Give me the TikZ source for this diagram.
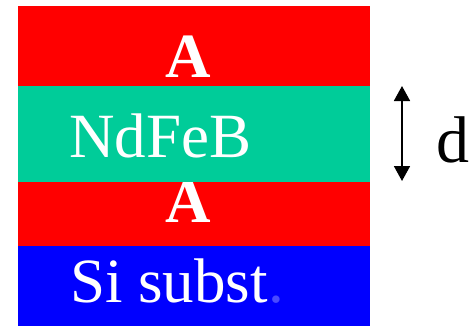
\documentclass[tikz,border=0pt]{standalone}
\usepackage{fontspec}
\setmainfont{Liberation Serif}
\usetikzlibrary{arrows.meta}
\definecolor{layred}{HTML}{FF0000}
\definecolor{layteal}{HTML}{00CC99}
\definecolor{layblue}{HTML}{0000FF}
\definecolor{dotblue}{HTML}{4A4AFF}
\begin{document}
\begin{tikzpicture}[x=1pt,y=-1pt,
  layer/.style={fill=#1,draw=none},
  lbl/.style={text=white,inner sep=0pt,anchor=base west,font=\fontsize{63}{63}\selectfont},
  albl/.style={text=white,inner sep=0pt,anchor=base,font=\fontsize{63}{63}\selectfont\bfseries},
  darrow/.style={line width=1.8pt,{Triangle[width=16pt,length=15pt]}-{Triangle[width=16pt,length=15pt]}}]
\useasboundingbox (0,0) rectangle (475,327);
\path[layer=layred] (18,6) rectangle (370,86) coordinate (topred);
\node[albl] (a1) at (188,77) {A};
\path[layer=layred] (18,182) rectangle (370,246) coordinate (midred);
\node[albl] (a2) at (188,222) {A};
\path[layer=layteal] (18,86) rectangle (370,182) coordinate (teal);
\node[lbl] (nd) at (69,157) {NdFeB};
\path[layer=layblue] (18,246) rectangle (370,326) coordinate (blue);
\node[lbl] (si) at (70,302) {Si subst\textcolor{dotblue}{.}};
\coordinate (atop) at (402,86);
\coordinate (abot) at (402,181);
\draw[darrow] (atop) -- (abot);
\node[inner sep=0pt,anchor=base west,font=\fontsize{66}{66}\selectfont] (d) at (436,162) {d};
\end{tikzpicture}
\end{document}
